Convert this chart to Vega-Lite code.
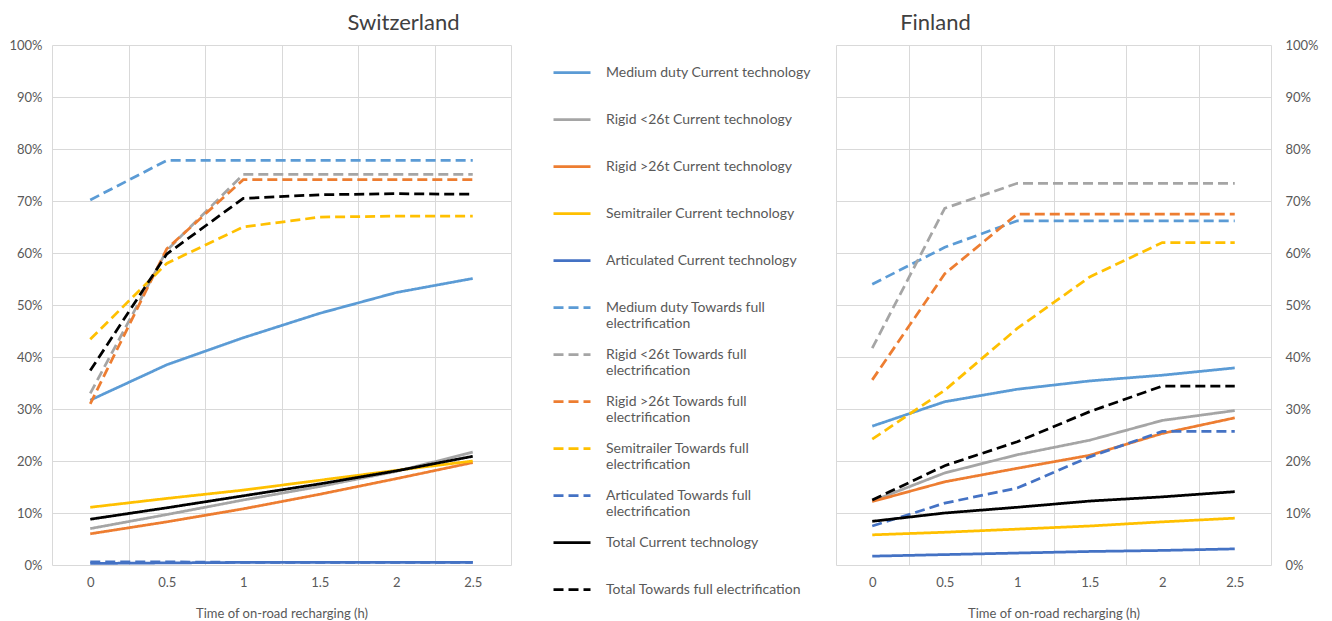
{
  "$schema": "https://vega.github.io/schema/vega-lite/v6.json",
  "background": "white",
  "padding": {"left": 8, "top": 12, "right": 5, "bottom": 0},
  "config": {
    "font": "Lato",
    "view": {"stroke": null},
    "axis": {"labelFont": "Lato", "labelFontSize": 13, "labelColor": "#595959", "titleFont": "Lato", "titleFontSize": 13, "titleColor": "#595959", "titleFontWeight": "normal", "gridColor": "#D9D9D9", "gridWidth": 1, "domain": false, "ticks": false},
    "title": {"font": "Lato", "fontSize": 22, "fontWeight": "normal", "color": "#404040"},
    "legend": {"symbolType": "stroke", "symbolSize": 1369, "symbolStrokeWidth": 2.75, "labelFont": "Lato", "labelFontSize": 14, "labelColor": "#595959", "labelOffset": 14, "rowPadding": 0, "clipHeight": 47, "offset": 37, "labelLimit": 300, "padding": 4}
  },
  "datasets": {
    "d": [
      {"country": "Switzerland", "series": "Medium duty Current technology", "t": 0, "v": 0.317},
      {"country": "Switzerland", "series": "Medium duty Current technology", "t": 0.5, "v": 0.385},
      {"country": "Switzerland", "series": "Medium duty Current technology", "t": 1, "v": 0.437},
      {"country": "Switzerland", "series": "Medium duty Current technology", "t": 1.5, "v": 0.484},
      {"country": "Switzerland", "series": "Medium duty Current technology", "t": 2, "v": 0.524},
      {"country": "Switzerland", "series": "Medium duty Current technology", "t": 2.5, "v": 0.551},
      {"country": "Switzerland", "series": "Rigid <26t Current technology", "t": 0, "v": 0.070},
      {"country": "Switzerland", "series": "Rigid <26t Current technology", "t": 0.5, "v": 0.097},
      {"country": "Switzerland", "series": "Rigid <26t Current technology", "t": 1, "v": 0.125},
      {"country": "Switzerland", "series": "Rigid <26t Current technology", "t": 1.5, "v": 0.151},
      {"country": "Switzerland", "series": "Rigid <26t Current technology", "t": 2, "v": 0.180},
      {"country": "Switzerland", "series": "Rigid <26t Current technology", "t": 2.5, "v": 0.217},
      {"country": "Switzerland", "series": "Rigid >26t Current technology", "t": 0, "v": 0.060},
      {"country": "Switzerland", "series": "Rigid >26t Current technology", "t": 0.5, "v": 0.083},
      {"country": "Switzerland", "series": "Rigid >26t Current technology", "t": 1, "v": 0.108},
      {"country": "Switzerland", "series": "Rigid >26t Current technology", "t": 1.5, "v": 0.136},
      {"country": "Switzerland", "series": "Rigid >26t Current technology", "t": 2, "v": 0.166},
      {"country": "Switzerland", "series": "Rigid >26t Current technology", "t": 2.5, "v": 0.197},
      {"country": "Switzerland", "series": "Semitrailer Current technology", "t": 0, "v": 0.111},
      {"country": "Switzerland", "series": "Semitrailer Current technology", "t": 0.5, "v": 0.128},
      {"country": "Switzerland", "series": "Semitrailer Current technology", "t": 1, "v": 0.144},
      {"country": "Switzerland", "series": "Semitrailer Current technology", "t": 1.5, "v": 0.163},
      {"country": "Switzerland", "series": "Semitrailer Current technology", "t": 2, "v": 0.182},
      {"country": "Switzerland", "series": "Semitrailer Current technology", "t": 2.5, "v": 0.200},
      {"country": "Switzerland", "series": "Articulated Current technology", "t": 0, "v": 0.003},
      {"country": "Switzerland", "series": "Articulated Current technology", "t": 0.5, "v": 0.004},
      {"country": "Switzerland", "series": "Articulated Current technology", "t": 1, "v": 0.005},
      {"country": "Switzerland", "series": "Articulated Current technology", "t": 1.5, "v": 0.005},
      {"country": "Switzerland", "series": "Articulated Current technology", "t": 2, "v": 0.005},
      {"country": "Switzerland", "series": "Articulated Current technology", "t": 2.5, "v": 0.005},
      {"country": "Switzerland", "series": "Medium duty Towards full electrification", "t": 0, "v": 0.702},
      {"country": "Switzerland", "series": "Medium duty Towards full electrification", "t": 0.5, "v": 0.778},
      {"country": "Switzerland", "series": "Medium duty Towards full electrification", "t": 1, "v": 0.778},
      {"country": "Switzerland", "series": "Medium duty Towards full electrification", "t": 1.5, "v": 0.778},
      {"country": "Switzerland", "series": "Medium duty Towards full electrification", "t": 2, "v": 0.778},
      {"country": "Switzerland", "series": "Medium duty Towards full electrification", "t": 2.5, "v": 0.778},
      {"country": "Switzerland", "series": "Rigid <26t Towards full electrification", "t": 0, "v": 0.330},
      {"country": "Switzerland", "series": "Rigid <26t Towards full electrification", "t": 0.5, "v": 0.605},
      {"country": "Switzerland", "series": "Rigid <26t Towards full electrification", "t": 1, "v": 0.751},
      {"country": "Switzerland", "series": "Rigid <26t Towards full electrification", "t": 1.5, "v": 0.751},
      {"country": "Switzerland", "series": "Rigid <26t Towards full electrification", "t": 2, "v": 0.751},
      {"country": "Switzerland", "series": "Rigid <26t Towards full electrification", "t": 2.5, "v": 0.751},
      {"country": "Switzerland", "series": "Rigid >26t Towards full electrification", "t": 0, "v": 0.310},
      {"country": "Switzerland", "series": "Rigid >26t Towards full electrification", "t": 0.5, "v": 0.608},
      {"country": "Switzerland", "series": "Rigid >26t Towards full electrification", "t": 1, "v": 0.741},
      {"country": "Switzerland", "series": "Rigid >26t Towards full electrification", "t": 1.5, "v": 0.741},
      {"country": "Switzerland", "series": "Rigid >26t Towards full electrification", "t": 2, "v": 0.741},
      {"country": "Switzerland", "series": "Rigid >26t Towards full electrification", "t": 2.5, "v": 0.741},
      {"country": "Switzerland", "series": "Semitrailer Towards full electrification", "t": 0, "v": 0.434},
      {"country": "Switzerland", "series": "Semitrailer Towards full electrification", "t": 0.5, "v": 0.580},
      {"country": "Switzerland", "series": "Semitrailer Towards full electrification", "t": 1, "v": 0.650},
      {"country": "Switzerland", "series": "Semitrailer Towards full electrification", "t": 1.5, "v": 0.669},
      {"country": "Switzerland", "series": "Semitrailer Towards full electrification", "t": 2, "v": 0.671},
      {"country": "Switzerland", "series": "Semitrailer Towards full electrification", "t": 2.5, "v": 0.671},
      {"country": "Switzerland", "series": "Articulated Towards full electrification", "t": 0, "v": 0.006},
      {"country": "Switzerland", "series": "Articulated Towards full electrification", "t": 0.5, "v": 0.006},
      {"country": "Switzerland", "series": "Articulated Towards full electrification", "t": 1, "v": 0.005},
      {"country": "Switzerland", "series": "Articulated Towards full electrification", "t": 1.5, "v": 0.005},
      {"country": "Switzerland", "series": "Articulated Towards full electrification", "t": 2, "v": 0.005},
      {"country": "Switzerland", "series": "Articulated Towards full electrification", "t": 2.5, "v": 0.005},
      {"country": "Switzerland", "series": "Total Current technology", "t": 0, "v": 0.088},
      {"country": "Switzerland", "series": "Total Current technology", "t": 0.5, "v": 0.110},
      {"country": "Switzerland", "series": "Total Current technology", "t": 1, "v": 0.133},
      {"country": "Switzerland", "series": "Total Current technology", "t": 1.5, "v": 0.156},
      {"country": "Switzerland", "series": "Total Current technology", "t": 2, "v": 0.181},
      {"country": "Switzerland", "series": "Total Current technology", "t": 2.5, "v": 0.209},
      {"country": "Switzerland", "series": "Total Towards full electrification", "t": 0, "v": 0.374},
      {"country": "Switzerland", "series": "Total Towards full electrification", "t": 0.5, "v": 0.598},
      {"country": "Switzerland", "series": "Total Towards full electrification", "t": 1, "v": 0.705},
      {"country": "Switzerland", "series": "Total Towards full electrification", "t": 1.5, "v": 0.712},
      {"country": "Switzerland", "series": "Total Towards full electrification", "t": 2, "v": 0.714},
      {"country": "Switzerland", "series": "Total Towards full electrification", "t": 2.5, "v": 0.713},
      {"country": "Finland", "series": "Medium duty Current technology", "t": 0, "v": 0.267},
      {"country": "Finland", "series": "Medium duty Current technology", "t": 0.5, "v": 0.314},
      {"country": "Finland", "series": "Medium duty Current technology", "t": 1, "v": 0.338},
      {"country": "Finland", "series": "Medium duty Current technology", "t": 1.5, "v": 0.354},
      {"country": "Finland", "series": "Medium duty Current technology", "t": 2, "v": 0.365},
      {"country": "Finland", "series": "Medium duty Current technology", "t": 2.5, "v": 0.379},
      {"country": "Finland", "series": "Rigid <26t Current technology", "t": 0, "v": 0.123},
      {"country": "Finland", "series": "Rigid <26t Current technology", "t": 0.5, "v": 0.177},
      {"country": "Finland", "series": "Rigid <26t Current technology", "t": 1, "v": 0.212},
      {"country": "Finland", "series": "Rigid <26t Current technology", "t": 1.5, "v": 0.240},
      {"country": "Finland", "series": "Rigid <26t Current technology", "t": 2, "v": 0.278},
      {"country": "Finland", "series": "Rigid <26t Current technology", "t": 2.5, "v": 0.297},
      {"country": "Finland", "series": "Rigid >26t Current technology", "t": 0, "v": 0.122},
      {"country": "Finland", "series": "Rigid >26t Current technology", "t": 0.5, "v": 0.160},
      {"country": "Finland", "series": "Rigid >26t Current technology", "t": 1, "v": 0.186},
      {"country": "Finland", "series": "Rigid >26t Current technology", "t": 1.5, "v": 0.211},
      {"country": "Finland", "series": "Rigid >26t Current technology", "t": 2, "v": 0.253},
      {"country": "Finland", "series": "Rigid >26t Current technology", "t": 2.5, "v": 0.283},
      {"country": "Finland", "series": "Semitrailer Current technology", "t": 0, "v": 0.058},
      {"country": "Finland", "series": "Semitrailer Current technology", "t": 0.5, "v": 0.063},
      {"country": "Finland", "series": "Semitrailer Current technology", "t": 1, "v": 0.069},
      {"country": "Finland", "series": "Semitrailer Current technology", "t": 1.5, "v": 0.075},
      {"country": "Finland", "series": "Semitrailer Current technology", "t": 2, "v": 0.083},
      {"country": "Finland", "series": "Semitrailer Current technology", "t": 2.5, "v": 0.090},
      {"country": "Finland", "series": "Articulated Current technology", "t": 0, "v": 0.017},
      {"country": "Finland", "series": "Articulated Current technology", "t": 0.5, "v": 0.020},
      {"country": "Finland", "series": "Articulated Current technology", "t": 1, "v": 0.023},
      {"country": "Finland", "series": "Articulated Current technology", "t": 1.5, "v": 0.026},
      {"country": "Finland", "series": "Articulated Current technology", "t": 2, "v": 0.028},
      {"country": "Finland", "series": "Articulated Current technology", "t": 2.5, "v": 0.031},
      {"country": "Finland", "series": "Medium duty Towards full electrification", "t": 0, "v": 0.540},
      {"country": "Finland", "series": "Medium duty Towards full electrification", "t": 0.5, "v": 0.611},
      {"country": "Finland", "series": "Medium duty Towards full electrification", "t": 1, "v": 0.662},
      {"country": "Finland", "series": "Medium duty Towards full electrification", "t": 1.5, "v": 0.662},
      {"country": "Finland", "series": "Medium duty Towards full electrification", "t": 2, "v": 0.662},
      {"country": "Finland", "series": "Medium duty Towards full electrification", "t": 2.5, "v": 0.662},
      {"country": "Finland", "series": "Rigid <26t Towards full electrification", "t": 0, "v": 0.417},
      {"country": "Finland", "series": "Rigid <26t Towards full electrification", "t": 0.5, "v": 0.686},
      {"country": "Finland", "series": "Rigid <26t Towards full electrification", "t": 1, "v": 0.734},
      {"country": "Finland", "series": "Rigid <26t Towards full electrification", "t": 1.5, "v": 0.734},
      {"country": "Finland", "series": "Rigid <26t Towards full electrification", "t": 2, "v": 0.734},
      {"country": "Finland", "series": "Rigid <26t Towards full electrification", "t": 2.5, "v": 0.734},
      {"country": "Finland", "series": "Rigid >26t Towards full electrification", "t": 0, "v": 0.356},
      {"country": "Finland", "series": "Rigid >26t Towards full electrification", "t": 0.5, "v": 0.560},
      {"country": "Finland", "series": "Rigid >26t Towards full electrification", "t": 1, "v": 0.675},
      {"country": "Finland", "series": "Rigid >26t Towards full electrification", "t": 1.5, "v": 0.675},
      {"country": "Finland", "series": "Rigid >26t Towards full electrification", "t": 2, "v": 0.675},
      {"country": "Finland", "series": "Rigid >26t Towards full electrification", "t": 2.5, "v": 0.675},
      {"country": "Finland", "series": "Semitrailer Towards full electrification", "t": 0, "v": 0.242},
      {"country": "Finland", "series": "Semitrailer Towards full electrification", "t": 0.5, "v": 0.336},
      {"country": "Finland", "series": "Semitrailer Towards full electrification", "t": 1, "v": 0.455},
      {"country": "Finland", "series": "Semitrailer Towards full electrification", "t": 1.5, "v": 0.554},
      {"country": "Finland", "series": "Semitrailer Towards full electrification", "t": 2, "v": 0.620},
      {"country": "Finland", "series": "Semitrailer Towards full electrification", "t": 2.5, "v": 0.620},
      {"country": "Finland", "series": "Articulated Towards full electrification", "t": 0, "v": 0.075},
      {"country": "Finland", "series": "Articulated Towards full electrification", "t": 0.5, "v": 0.119},
      {"country": "Finland", "series": "Articulated Towards full electrification", "t": 1, "v": 0.148},
      {"country": "Finland", "series": "Articulated Towards full electrification", "t": 1.5, "v": 0.208},
      {"country": "Finland", "series": "Articulated Towards full electrification", "t": 2, "v": 0.257},
      {"country": "Finland", "series": "Articulated Towards full electrification", "t": 2.5, "v": 0.257},
      {"country": "Finland", "series": "Total Current technology", "t": 0, "v": 0.084},
      {"country": "Finland", "series": "Total Current technology", "t": 0.5, "v": 0.100},
      {"country": "Finland", "series": "Total Current technology", "t": 1, "v": 0.111},
      {"country": "Finland", "series": "Total Current technology", "t": 1.5, "v": 0.123},
      {"country": "Finland", "series": "Total Current technology", "t": 2, "v": 0.131},
      {"country": "Finland", "series": "Total Current technology", "t": 2.5, "v": 0.141},
      {"country": "Finland", "series": "Total Towards full electrification", "t": 0, "v": 0.125},
      {"country": "Finland", "series": "Total Towards full electrification", "t": 0.5, "v": 0.191},
      {"country": "Finland", "series": "Total Towards full electrification", "t": 1, "v": 0.237},
      {"country": "Finland", "series": "Total Towards full electrification", "t": 1.5, "v": 0.295},
      {"country": "Finland", "series": "Total Towards full electrification", "t": 2, "v": 0.344},
      {"country": "Finland", "series": "Total Towards full electrification", "t": 2.5, "v": 0.344}
    ]
  },
  "hconcat": [
    {
      "width": 459,
      "height": 520,
      "title": {"text": "Switzerland", "dx": 122, "offset": 4},
      "data": {"name": "d"},
      "transform": [{"filter": "datum.country === 'Switzerland'"}],
      "mark": {"type": "line", "interpolate": "linear", "strokeWidth": 2.75},
      "encoding": {
        "x": {"field": "t", "type": "ordinal", "scale": {"type": "band", "paddingInner": 0, "paddingOuter": 0}, "axis": {"title": "Time of on-road recharging (h)", "labelAngle": 0, "grid": true, "tickBand": "extent", "labelPadding": 11, "titlePadding": 18}},
        "y": {"field": "v", "type": "quantitative", "scale": {"domain": [0, 1]}, "axis": {"title": null, "format": "%", "values": [0, 0.1, 0.2, 0.3, 0.4, 0.5, 0.6, 0.7, 0.8, 0.9, 1], "labelPadding": 10}},
        "color": {
          "field": "series", "type": "nominal",
          "scale": {
            "domain": ["Medium duty Current technology", "Rigid <26t Current technology", "Rigid >26t Current technology", "Semitrailer Current technology", "Articulated Current technology", "Medium duty Towards full electrification", "Rigid <26t Towards full electrification", "Rigid >26t Towards full electrification", "Semitrailer Towards full electrification", "Articulated Towards full electrification", "Total Current technology", "Total Towards full electrification"],
            "range": ["#5B9BD5", "#A5A5A5", "#ED7D31", "#FFC000", "#4472C4", "#5B9BD5", "#A5A5A5", "#ED7D31", "#FFC000", "#4472C4", "#000000", "#000000"]
          },
          "legend": {
            "title": null,
            "labelExpr": "indexof(datum.label, 'Towards full electrification') > 0 && indexof(datum.label, 'Total') < 0 ? [replace(datum.label, ' electrification', ''), 'electrification'] : datum.label",
            "encode": {"labels": {"update": {"lineHeight": {"value": 16}}}}
          }
        },
        "strokeDash": {
          "field": "series", "type": "nominal",
          "scale": {
            "domain": ["Medium duty Current technology", "Rigid <26t Current technology", "Rigid >26t Current technology", "Semitrailer Current technology", "Articulated Current technology", "Medium duty Towards full electrification", "Rigid <26t Towards full electrification", "Rigid >26t Towards full electrification", "Semitrailer Towards full electrification", "Articulated Towards full electrification", "Total Current technology", "Total Towards full electrification"],
            "range": [[1, 0], [1, 0], [1, 0], [1, 0], [1, 0], [10, 5], [10, 5], [10, 5], [10, 5], [10, 5], [1, 0], [10, 5]]
          },
          "legend": {
            "title": null,
            "labelExpr": "indexof(datum.label, 'Towards full electrification') > 0 && indexof(datum.label, 'Total') < 0 ? [replace(datum.label, ' electrification', ''), 'electrification'] : datum.label",
            "encode": {"labels": {"update": {"lineHeight": {"value": 16}}}}
          }
        }
      }
    },
    {
      "width": 435,
      "height": 520,
      "title": {"text": "Finland", "dx": -118, "offset": 4},
      "data": {"name": "d"},
      "transform": [{"filter": "datum.country === 'Finland'"}],
      "mark": {"type": "line", "interpolate": "linear", "strokeWidth": 2.75},
      "encoding": {
        "x": {"field": "t", "type": "ordinal", "scale": {"type": "band", "paddingInner": 0, "paddingOuter": 0}, "axis": {"title": "Time of on-road recharging (h)", "labelAngle": 0, "grid": true, "tickBand": "extent", "labelPadding": 11, "titlePadding": 18}},
        "y": {"field": "v", "type": "quantitative", "scale": {"domain": [0, 1]}, "axis": {"title": null, "orient": "right", "format": "%", "values": [0, 0.1, 0.2, 0.3, 0.4, 0.5, 0.6, 0.7, 0.8, 0.9, 1], "labelPadding": 14}},
        "color": {
          "field": "series", "type": "nominal",
          "scale": {
            "domain": ["Medium duty Current technology", "Rigid <26t Current technology", "Rigid >26t Current technology", "Semitrailer Current technology", "Articulated Current technology", "Medium duty Towards full electrification", "Rigid <26t Towards full electrification", "Rigid >26t Towards full electrification", "Semitrailer Towards full electrification", "Articulated Towards full electrification", "Total Current technology", "Total Towards full electrification"],
            "range": ["#5B9BD5", "#A5A5A5", "#ED7D31", "#FFC000", "#4472C4", "#5B9BD5", "#A5A5A5", "#ED7D31", "#FFC000", "#4472C4", "#000000", "#000000"]
          },
          "legend": null
        },
        "strokeDash": {
          "field": "series", "type": "nominal",
          "scale": {
            "domain": ["Medium duty Current technology", "Rigid <26t Current technology", "Rigid >26t Current technology", "Semitrailer Current technology", "Articulated Current technology", "Medium duty Towards full electrification", "Rigid <26t Towards full electrification", "Rigid >26t Towards full electrification", "Semitrailer Towards full electrification", "Articulated Towards full electrification", "Total Current technology", "Total Towards full electrification"],
            "range": [[1, 0], [1, 0], [1, 0], [1, 0], [1, 0], [10, 5], [10, 5], [10, 5], [10, 5], [10, 5], [1, 0], [10, 5]]
          },
          "legend": null
        }
      }
    }
  ],
  "spacing": 21,
  "resolve": {"legend": {"color": "independent", "strokeDash": "independent"}}
}
